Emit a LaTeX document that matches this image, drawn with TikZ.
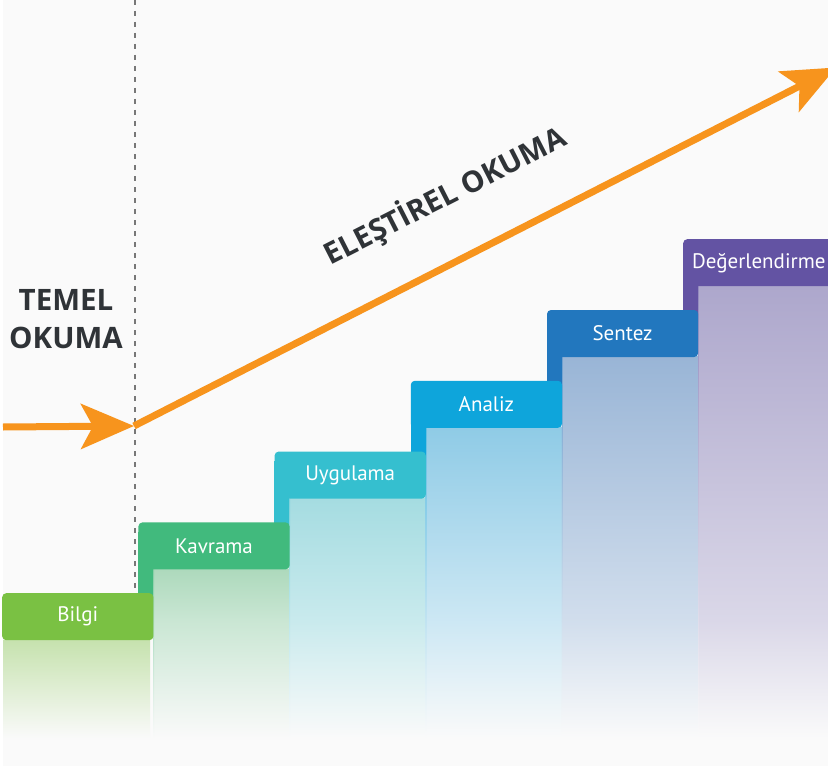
\documentclass[tikz,border=0pt]{standalone}
\usepackage{fontspec}
\setmainfont{PT Sans}
\newfontfamily\titlefont{Open Sans}
\usetikzlibrary{arrows.meta}

\definecolor{bgcol}{HTML}{FAFAFA}
\definecolor{okorange}{HTML}{F7941D}
\definecolor{okgray}{HTML}{2F3337}
\definecolor{dashgray}{HTML}{777777}
% header colours
\definecolor{bilgicol}{HTML}{7AC143}
\definecolor{kavrcol}{HTML}{41BA7D}
\definecolor{uygcol}{HTML}{35BFCF}
\definecolor{analizcol}{HTML}{0EA5DB}
\definecolor{sentezcol}{HTML}{2277BE}
\definecolor{degcol}{HTML}{6353A3}
% column colours
\definecolor{bilgitop}{HTML}{C6E2AE}
\definecolor{kavrtop}{HTML}{ADD9BC}
\definecolor{uygtop}{HTML}{A5DCE1}
\definecolor{analiztop}{HTML}{8FCBE6}
\definecolor{senteztop}{HTML}{99B5D6}
\definecolor{degtop}{HTML}{ADA7CC}

\tikzset{
  stephead/.style={rounded corners=4pt, inner sep=0pt, minimum width=151.2pt,
    minimum height=47pt, text=white, font=\fontsize{21}{25}\selectfont},
  okarrow/.style={okorange, line width=7pt,
    -{Stealth[length=53pt, width=45pt, inset=12pt]}},
  dashline/.style={dashgray, line width=1.5pt, dash pattern=on 5pt off 6pt},
  okutitle/.style={okgray, font=\titlefont\bfseries\fontsize{29.5}{38}\selectfont}
}

\begin{document}
\begin{tikzpicture}[x=1pt, y=-1pt]
\useasboundingbox (0,0) rectangle (828,768);
\fill[white] (0,0) rectangle (828,768);
\fill[bgcol] (3,0) rectangle (828,766);

% columns below the steps
\foreach \i/\hcol/\ccol/\mix in {0/bilgicol/bilgitop/100, 1/kavrcol/kavrtop/65,
  2/uygcol/uygtop/60, 3/analizcol/analiztop/45, 4/sentezcol/senteztop/45,
  5/degcol/degtop/45}
{
  \pgfmathsetmacro{\xl}{2+136.2*\i}
  \pgfmathsetmacro{\xc}{\i==0 ? 3 : \xl+15}
  \pgfmathsetmacro{\xr}{\i==0 ? 150 : \xl+151.2}
  \pgfmathsetmacro{\yb}{593-70.8*\i+47}
  \ifnum\i>0
    \shade[top color=\ccol, bottom color=\ccol!\mix!white] (\xc,\yb) rectangle (\xr,621);
    \shade[top color=\ccol!\mix!white, bottom color=bgcol] (\xc,621) rectangle (\xr,738);
    \shade[top color=\hcol!35!\ccol, bottom color=bgcol] (\xc,\yb) rectangle (\xc+0.8,738);
  \else
    \shade[top color=\ccol, bottom color=bgcol] (\xc,\yb) rectangle (\xr,738);
  \fi
}

% step headers, highest first
\foreach \i/\name/\lbl/\hcol in {5/deger/Değerlendirme/degcol, 4/sentez/Sentez/sentezcol,
  3/analiz/Analiz/analizcol, 2/uyg/Uygulama/uygcol, 1/kavr/Kavrama/kavrcol,
  0/bilgi/Bilgi/bilgicol}
{
  \pgfmathsetmacro{\xl}{2+136.2*\i}
  \pgfmathsetmacro{\yt}{593-70.8*\i}
  \ifnum\i>0
    \fill[\hcol] (\xl,\yt+10) rectangle (\xl+15,\yt+80);
  \fi
  \node[stephead, fill=\hcol, anchor=north west] (\name) at (\xl,\yt) {\lbl};
}

% border between the two readings
\coordinate (dtop) at (135,0);
\coordinate (dbot) at (135,593);
\draw[dashline] (dtop) -- (dbot);

% arrows
\coordinate (instart) at (3,427);
\coordinate (turn) at (134,426);
\coordinate (outend) at (836,67.5);
\draw[okarrow] (instart) -- (turn);
\draw[okarrow] (turn) -- (outend);

\node[okutitle, align=center] (temel) at (66,319) {TEMEL\\OKUMA};
\node[okutitle, rotate=27] (elestirel) at (445,196) {ELEŞTİREL OKUMA};

\end{tikzpicture}
\end{document}
